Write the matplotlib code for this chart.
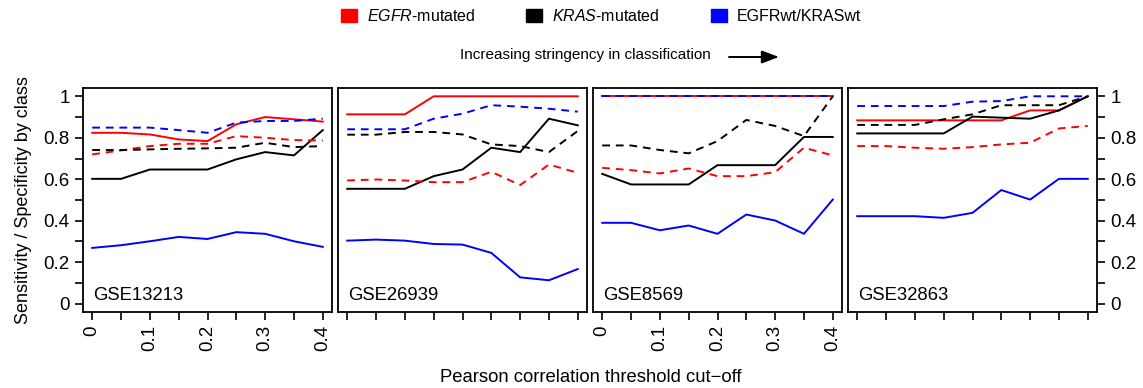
import numpy as np
import matplotlib
matplotlib.use('Agg')
import matplotlib.pyplot as plt
from matplotlib.patches import Patch, FancyArrowPatch

plt.rcParams['font.family'] = ['Liberation Sans', 'DejaVu Sans']
plt.rcParams['mathtext.fontset'] = 'custom'
plt.rcParams['mathtext.rm'] = 'Liberation Sans'
plt.rcParams['mathtext.it'] = 'Liberation Sans:italic'

# correlation threshold cut-offs
thresholds = [0.0, 0.05, 0.1, 0.15, 0.2, 0.25, 0.3, 0.35, 0.4]
datasets = ['GSE13213', 'GSE26939', 'GSE8569', 'GSE32863']

# solid lines (sensitivity) and dashed lines (specificity) per class
egfr_sens = [
    [0.824, 0.824, 0.816, 0.792, 0.784, 0.865, 0.900, 0.889, 0.878],
    [0.913, 0.913, 0.913, 1.0, 1.0, 1.0, 1.0, 1.0, 1.0],
    [1.0, 1.0, 1.0, 1.0, 1.0, 1.0, 1.0, 1.0, 1.0],
    [0.884, 0.884, 0.884, 0.884, 0.884, 0.884, 0.932, 0.932, 1.0],
]
egfr_spec = [
    [0.720, 0.739, 0.760, 0.771, 0.771, 0.808, 0.800, 0.789, 0.787],
    [0.594, 0.599, 0.594, 0.586, 0.586, 0.636, 0.572, 0.671, 0.631],
    [0.655, 0.644, 0.628, 0.652, 0.615, 0.615, 0.634, 0.752, 0.715],
    [0.760, 0.760, 0.752, 0.747, 0.755, 0.768, 0.776, 0.845, 0.857],
]
kras_sens = [
    [0.602, 0.602, 0.647, 0.647, 0.647, 0.696, 0.731, 0.715, 0.837],
    [0.554, 0.554, 0.554, 0.615, 0.647, 0.752, 0.731, 0.892, 0.860],
    [0.626, 0.575, 0.575, 0.575, 0.668, 0.668, 0.668, 0.804, 0.804],
    [0.821, 0.821, 0.821, 0.821, 0.902, 0.897, 0.892, 0.932, 1.0],
]
kras_spec = [
    [0.741, 0.741, 0.744, 0.747, 0.749, 0.752, 0.776, 0.755, 0.760],
    [0.815, 0.815, 0.828, 0.828, 0.816, 0.768, 0.760, 0.731, 0.833],
    [0.763, 0.763, 0.741, 0.725, 0.784, 0.886, 0.857, 0.808, 1.0],
    [0.862, 0.862, 0.862, 0.889, 0.913, 0.957, 0.957, 0.957, 1.0],
]
wt_sens = [
    [0.269, 0.282, 0.301, 0.322, 0.312, 0.345, 0.337, 0.301, 0.274],
    [0.304, 0.309, 0.304, 0.288, 0.285, 0.245, 0.127, 0.113, 0.167],
    [0.390, 0.390, 0.354, 0.377, 0.337, 0.430, 0.401, 0.337, 0.502],
    [0.422, 0.422, 0.422, 0.414, 0.438, 0.548, 0.502, 0.602, 0.602],
]
wt_spec = [
    [0.849, 0.849, 0.849, 0.837, 0.824, 0.873, 0.881, 0.881, 0.892],
    [0.841, 0.841, 0.841, 0.892, 0.916, 0.957, 0.950, 0.940, 0.926],
    [1.0, 1.0, 1.0, 1.0, 1.0, 1.0, 1.0, 1.0, 1.0],
    [0.953, 0.953, 0.953, 0.953, 0.974, 0.977, 1.0, 1.0, 1.0],
]

red = '#ff0000'
blue = '#0000ff'

W, H = 1143, 388
fig = plt.figure(figsize=(W / 100, H / 100), dpi=100)

lefts = [83, 338, 593, 848]
for i in range(4):
    ax = fig.add_axes([lefts[i] / W, 1 - 312 / H, 249 / W, 224 / H])
    lw = 1.4
    ax.plot(thresholds, egfr_sens[i], color=red, lw=lw)
    ax.plot(thresholds, kras_sens[i], color='black', lw=lw)
    ax.plot(thresholds, wt_sens[i], color=blue, lw=lw)
    ax.plot(thresholds, egfr_spec[i], color=red, lw=lw, dashes=(4, 3))
    ax.plot(thresholds, kras_spec[i], color='black', lw=lw, dashes=(4, 3))
    ax.plot(thresholds, wt_spec[i], color=blue, lw=lw, dashes=(4, 3))
    ax.set_xlim(-0.016, 0.416)
    ax.set_ylim(-0.04, 1.04)
    for s in ax.spines.values():
        s.set_linewidth(1.3)

    ax.set_xticks(thresholds, minor=True)
    ax.set_xticks([0, 0.1, 0.2, 0.3, 0.4])
    if i in (0, 2):
        ax.set_xticklabels(['0', '0.1', '0.2', '0.3', '0.4'], rotation=90, fontsize=13.5)
    else:
        ax.set_xticklabels([])
    ax.tick_params(axis='both', which='both', direction='out', length=5.5, width=1.2, pad=4)

    ax.set_yticks(np.arange(0, 1.01, 0.1), minor=True)
    ax.set_yticks([0, 0.2, 0.4, 0.6, 0.8, 1.0])
    ax.set_yticklabels(['0', '0.2', '0.4', '0.6', '0.8', '1'], fontsize=13.5)
    if i == 0:
        ax.set_ylabel('Sensitivity / Specificity by class', fontsize=13, labelpad=8)
    elif i == 3:
        ax.yaxis.tick_right()
    else:
        ax.tick_params(axis='y', which='both', left=False, labelleft=False)

    ax.text(0.04, 0.035, datasets[i], transform=ax.transAxes, fontsize=13.3, ha='left', va='bottom')

fig.text(591 / W, 1 - 377 / H, 'Pearson correlation threshold cut\u2212off', ha='center', va='center', fontsize=13.3)

handles = [Patch(color=red), Patch(color='black'), Patch(color=blue)]
labels = ['$\\mathit{EGFR}$-mutated', '$\\mathit{KRAS}$-mutated', 'EGFRwt/KRASwt']
fig.legend(handles, labels, loc='center', bbox_to_anchor=(601 / W, 1 - 16 / H), ncol=3,
           frameon=False, fontsize=11.5, handlelength=1.0, handleheight=0.8,
           handletextpad=0.6, columnspacing=3.2, borderpad=0, borderaxespad=0)

fig.text(585 / W, 1 - 55 / H, 'Increasing stringency in classification', ha='center', va='center', fontsize=11)
fig.add_artist(FancyArrowPatch((729 / W, 1 - 57 / H), (779 / W, 1 - 57 / H),
                               transform=fig.transFigure, arrowstyle='-|>,head_length=0.8,head_width=0.3',
                               mutation_scale=13, lw=1.4, color='black', shrinkA=0, shrinkB=0))

fig.savefig('out.png', dpi=100)
